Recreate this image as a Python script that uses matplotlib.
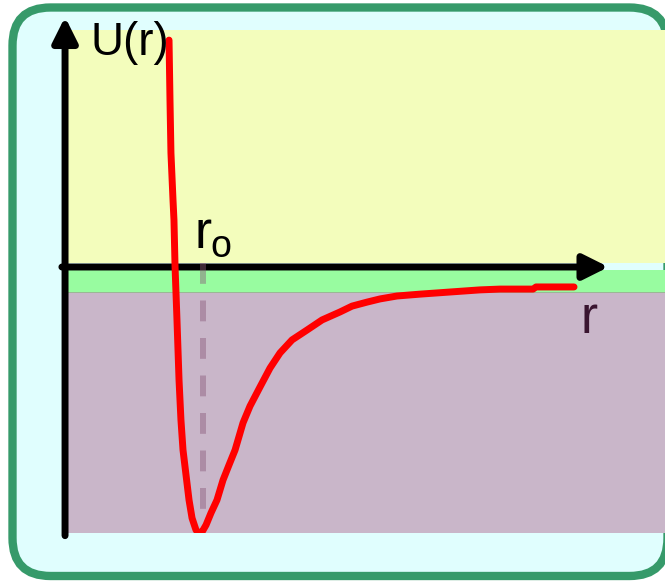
import numpy as np
import matplotlib
matplotlib.use("Agg")
import matplotlib.pyplot as plt
from matplotlib.patches import FancyBboxPatch, FancyArrowPatch

plt.rcParams['font.family'] = ['Liberation Sans', 'DejaVu Sans']
plt.rcParams['lines.scale_dashes'] = False

# potential curve U(r), r in units of r0, U in units of well depth
r_vals = [0.752, 0.759, 0.766, 0.781, 0.788, 0.796, 0.810, 0.825, 0.839,
          0.854, 0.876, 0.898, 0.920, 0.949, 0.971, 0.993, 1.022, 1.058,
          1.102, 1.146, 1.190, 1.234, 1.292, 1.343, 1.416, 1.489, 1.562,
          1.650, 1.759, 1.869, 2.000, 2.088, 2.197, 2.292, 2.416, 2.584,
          2.803, 3.022, 3.168, 3.409, 3.431, 3.708]
u_vals = [0.853, 0.628, 0.429, 0.252, 0.177, 0.0, -0.199, -0.425, -0.575,
          -0.688, -0.782, -0.876, -0.944, -0.989, -1.0, -0.996, -0.970, -0.925,
          -0.876, -0.801, -0.744, -0.688, -0.586, -0.523, -0.451, -0.380, -0.323,
          -0.274, -0.237, -0.199, -0.169, -0.147, -0.132, -0.120, -0.109, -0.102,
          -0.094, -0.086, -0.083, -0.083, -0.075, -0.075]

r0 = 1.0

# energy bands (U values)
yellow_band = (0.015, 0.9)
green_band = (-0.094, -0.011)
purple_band = (-1.0, -0.098)

x_range = (0, 4.372)
y_range = (-1.0, 0.891)

W, H = 665, 581
fig = plt.figure(figsize=(W / 100, H / 100), dpi=100)

# background frame in pixel coordinates
bg = fig.add_axes([0, 0, 1, 1])
bg.set_xlim(0, W)
bg.set_ylim(H, 0)
bg.axis("off")
frame = FancyBboxPatch((12.5, 7.5), 655, 568.5,
                       boxstyle="round,pad=0,rounding_size=38",
                       facecolor="#e0fefe", edgecolor="#369a6a", linewidth=6)
bg.add_patch(frame)

ax = fig.add_axes([66 / W, (H - 533) / H, (W - 66) / W, 503 / H])
ax.set_xlim(*x_range)
ax.set_ylim(*y_range)
ax.axis("off")
ax.patch.set_alpha(0)

ax.axhspan(*yellow_band, color="#f3fdbc", lw=0, zorder=0)
ax.axhspan(*green_band, color="#98fca0", lw=0, zorder=0)
ax.axhspan(-0.0985, -0.0935, color="#9ab894", lw=0, zorder=0)
ax.axhspan(*purple_band, color="#c9b6c9", lw=0, zorder=0)

# axes arrows
v_arrow = FancyArrowPatch((-0.007, -1.01), (-0.007, 0.94),
                          arrowstyle="-|>,head_length=15,head_width=7.5",
                          mutation_scale=1, color="black", lw=5,
                          shrinkA=0, shrinkB=0, clip_on=False, zorder=3)
ax.add_patch(v_arrow)
h_arrow = FancyArrowPatch((-0.03, 0.0), (3.96, 0.0),
                          arrowstyle="-|>,head_length=15,head_width=7.5",
                          mutation_scale=1, color="black", lw=5,
                          shrinkA=0, shrinkB=0, clip_on=False, zorder=3)
ax.add_patch(h_arrow)

# equilibrium separation marker
ax.plot([r0, r0], [0.015, -0.93], color="#8a5a7a", alpha=0.45, lw=4.3,
        dashes=(15, 12), solid_capstyle="butt", dash_capstyle="butt", zorder=4)

ax.plot(r_vals, u_vals, color="#ff0000", lw=5, solid_capstyle="round",
        solid_joinstyle="round", zorder=5)

# labels, placed in pixel coordinates
px = bg.transData
ax.text(90, 55, "U(r)", fontsize=33, color="black", ha="left", va="baseline",
        transform=px, zorder=6)
ax.text(581, 333, "r", fontsize=37, color="#3a1530", ha="left", va="baseline",
        transform=px, zorder=6)
ax.text(194, 248, "r", fontsize=37, color="black", ha="left", va="baseline",
        transform=px, zorder=6)
ax.text(210, 257, "o", fontsize=27, color="black", ha="left", va="baseline",
        transform=px, zorder=6)

fig.savefig("out.png", dpi=100)
